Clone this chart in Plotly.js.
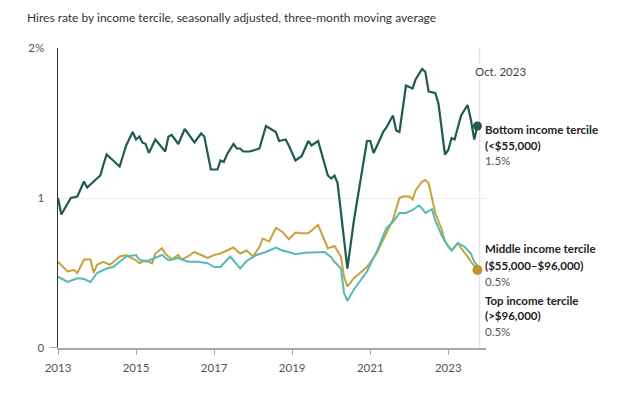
<!DOCTYPE html>
<html>
<head>
<meta charset="utf-8">
<script src="https://cdn.plot.ly/plotly-3.0.1.min.js"></script>
<style>html,body{margin:0;padding:0;background:#fff;}#chart{width:620px;height:396px;}</style>
</head>
<body>
<div id="chart"></div>
<script>
// Bottom income tercile (<$55,000)
const bottomDates = ['2013-01','2013-02','2013-05','2013-07','2013-09','2013-10','2013-12','2014-02','2014-03','2014-04','2014-06','2014-08','2014-10','2014-12','2015-01','2015-02','2015-03','2015-04','2015-05','2015-07','2015-10','2015-11','2015-12','2016-02','2016-04','2016-05','2016-07','2016-09','2016-10','2016-12','2017-02','2017-03','2017-04','2017-05','2017-07','2017-08','2017-09','2017-10','2017-12','2018-03','2018-05','2018-08','2018-09','2018-11','2018-12','2019-02','2019-04','2019-06','2019-07','2019-09','2019-12','2020-01','2020-02','2020-03','2020-06','2020-08','2020-12','2021-01','2021-02','2021-04','2021-05','2021-06','2021-08','2021-09','2021-10','2021-12','2022-02','2022-03','2022-05','2022-06','2022-07','2022-09','2022-10','2022-12','2023-01','2023-02','2023-03','2023-05','2023-07','2023-08','2023-09','2023-10'];
const bottomValues = [1.00,0.89,1.00,1.01,1.11,1.07,1.11,1.15,1.22,1.29,1.25,1.21,1.35,1.44,1.39,1.41,1.37,1.36,1.30,1.39,1.31,1.41,1.42,1.36,1.46,1.43,1.37,1.43,1.41,1.19,1.19,1.25,1.24,1.29,1.36,1.33,1.33,1.31,1.31,1.33,1.48,1.44,1.38,1.39,1.35,1.25,1.28,1.38,1.35,1.38,1.15,1.13,1.15,1.10,0.53,0.85,1.38,1.38,1.30,1.39,1.44,1.47,1.55,1.45,1.44,1.75,1.73,1.79,1.86,1.84,1.71,1.70,1.63,1.29,1.32,1.40,1.39,1.55,1.62,1.52,1.39,1.48];

// Middle income tercile ($55,000–$96,000)
const middleDates = ['2013-01','2013-04','2013-06','2013-07','2013-09','2013-10','2013-11','2013-12','2014-01','2014-03','2014-05','2014-07','2014-08','2014-10','2014-11','2015-01','2015-02','2015-04','2015-06','2015-07','2015-09','2015-10','2015-12','2016-02','2016-03','2016-05','2016-07','2016-09','2016-11','2017-01','2017-03','2017-05','2017-07','2017-09','2017-11','2018-01','2018-03','2018-04','2018-06','2018-08','2018-10','2018-12','2019-02','2019-04','2019-06','2019-09','2019-10','2019-12','2020-02','2020-04','2020-05','2020-06','2020-08','2020-12','2021-03','2021-06','2021-08','2021-10','2021-11','2022-01','2022-02','2022-03','2022-05','2022-06','2022-07','2022-09','2022-11','2022-12','2023-02','2023-04','2023-05','2023-07','2023-08','2023-10'];
const middleValues = [0.575,0.51,0.52,0.50,0.59,0.59,0.59,0.50,0.555,0.575,0.555,0.59,0.61,0.62,0.605,0.585,0.565,0.585,0.565,0.63,0.665,0.63,0.59,0.62,0.59,0.61,0.64,0.62,0.60,0.62,0.63,0.65,0.67,0.63,0.65,0.61,0.675,0.73,0.71,0.80,0.775,0.725,0.77,0.765,0.765,0.82,0.765,0.665,0.68,0.61,0.475,0.41,0.465,0.54,0.63,0.765,0.855,1.00,1.01,1.01,0.99,1.05,1.11,1.12,1.10,0.90,0.79,0.71,0.65,0.70,0.665,0.61,0.575,0.52];

// Top income tercile (>$96,000)
const topDates = ['2013-01','2013-04','2013-07','2013-09','2013-11','2014-01','2014-04','2014-06','2014-08','2014-10','2015-01','2015-02','2015-04','2015-07','2015-09','2015-11','2016-02','2016-05','2016-08','2016-11','2017-01','2017-03','2017-06','2017-09','2017-11','2018-02','2018-05','2018-08','2018-10','2018-12','2019-02','2019-05','2019-08','2019-11','2020-01','2020-02','2020-04','2020-05','2020-06','2020-08','2020-12','2021-03','2021-06','2021-08','2021-10','2021-12','2022-02','2022-04','2022-05','2022-06','2022-08','2022-09','2022-11','2023-01','2023-02','2023-04','2023-06','2023-08','2023-09','2023-10'];
const topValues = [0.475,0.44,0.465,0.46,0.44,0.50,0.53,0.54,0.575,0.61,0.62,0.59,0.575,0.60,0.62,0.585,0.60,0.575,0.575,0.565,0.54,0.54,0.61,0.53,0.58,0.62,0.64,0.67,0.65,0.64,0.625,0.635,0.64,0.64,0.605,0.575,0.53,0.365,0.315,0.39,0.51,0.64,0.80,0.84,0.90,0.90,0.92,0.95,0.93,0.90,0.925,0.85,0.75,0.675,0.65,0.70,0.675,0.63,0.575,0.55];

const xTickVals = ['2013-01-01','2015-01-01','2017-01-01','2019-01-01','2021-01-01','2023-01-01'];
const xTickText = ['2013','2015','2017','2019','2021','2023'];
const yTickVals = [0,1,2];
const yTickText = ['0','1','2%'];

const titleText = 'Hires rate by income tercile, seasonally adjusted, three-month moving average';
const markerLabel = 'Oct. 2023';
const markerDate = '2023-10-22';
const labels = [
  {lines:['<b>Bottom income tercile</b>','<b>(<$55,000)</b>','1.5%'], py:[129,145,160]},
  {lines:['<b>Middle income tercile</b>','<b>($55,000–$96,000)</b>','0.5%'], py:[249,265,281]},
  {lines:['<b>Top income tercile</b>','<b>(>$96,000)</b>','0.5%'], py:[300,315,331]}
];

const C_BOTTOM = '#1f5b52', C_MID = '#c8a33a', C_TOP = '#55bab6';
const FONT = 'Lato, "Open Sans", sans-serif';

const traces = [
  {x: middleDates, y: middleValues, type:'scatter', mode:'lines', line:{color:C_MID, width:2}, hoverinfo:'skip'},
  {x: topDates, y: topValues, type:'scatter', mode:'lines', line:{color:C_TOP, width:2}, hoverinfo:'skip'},
  {x: bottomDates, y: bottomValues, type:'scatter', mode:'lines', line:{color:C_BOTTOM, width:2.2}, hoverinfo:'skip'},
  {x: [bottomDates[bottomDates.length-1]], y: [bottomValues[bottomValues.length-1]], type:'scatter', mode:'markers', marker:{color:C_BOTTOM, size:9}, hoverinfo:'skip'},
  {x: [middleDates[middleDates.length-1]], y: [middleValues[middleValues.length-1]], type:'scatter', mode:'markers', marker:{color:'#b8952f', size:10}, hoverinfo:'skip'}
];

// plot area: x 58..486, y 48..348
const L=58, R=486, T=48, B=348;
const py2paper = p => (B - p)/(B - T);
const px2paper = p => (p - L)/(R - L);

const annotations = [];
labels.forEach(g => {
  g.lines.forEach((t,i) => {
    annotations.push({xref:'paper', yref:'paper', x:px2paper(483), y:py2paper(g.py[i]), xanchor:'left', yanchor:'middle', text:t, showarrow:false, font:{family:FONT, size:11.5, color:(i<2?'#222':'#555')}});
  });
});
annotations.push({xref:'paper', yref:'paper', x:px2paper(473), y:py2paper(72), xanchor:'left', yanchor:'middle', text:markerLabel, showarrow:false, bgcolor:'#fff', font:{family:FONT, size:11.5, color:'#444'}});

const layout = {
  width:620, height:396,
  margin:{l:L, r:620-R, t:T, b:396-B, pad:0},
  paper_bgcolor:'#fff', plot_bgcolor:'#fff',
  showlegend:false,
  title:{text:titleText, x:27/620, xanchor:'left', xref:'container', y:1-18/396, yanchor:'middle', yref:'container', font:{family:FONT, size:12, color:'#333'}},
  xaxis:{type:'date', range:['2013-01-01','2023-12-20'], tickvals:xTickVals, ticktext:xTickText, showgrid:false, zeroline:false,
    showline:true, linecolor:'#aaa', linewidth:2, ticks:'outside', ticklen:5, tickcolor:'#aaa', tickwidth:1,
    ticklabelstandoff:3,
    tickfont:{family:FONT, size:11.5, color:'#555'}},
  yaxis:{range:[0,2], tickvals:yTickVals, ticktext:yTickText, showgrid:true, gridcolor:'#eeeeee', gridwidth:1, zeroline:false,
    showline:true, linecolor:'#333', linewidth:1.5, ticks:'', ticklen:0, ticklabelstandoff:10,
    tickfont:{family:FONT, size:11.5, color:'#555'}},
  shapes:[
    {type:'line', xref:'x', yref:'y', x0:markerDate, x1:markerDate, y0:0, y1:2, line:{color:'#dddddd', width:1}, layer:'below'},
    {type:'line', xref:'paper', yref:'y', x0:-8/(R-L), x1:0, y0:0, y1:0, line:{color:'#aaa', width:2}}
  ],
  annotations:annotations
};

Plotly.newPlot('chart', traces, layout, {staticPlot:true, displayModeBar:false});
</script>
</body>
</html>
